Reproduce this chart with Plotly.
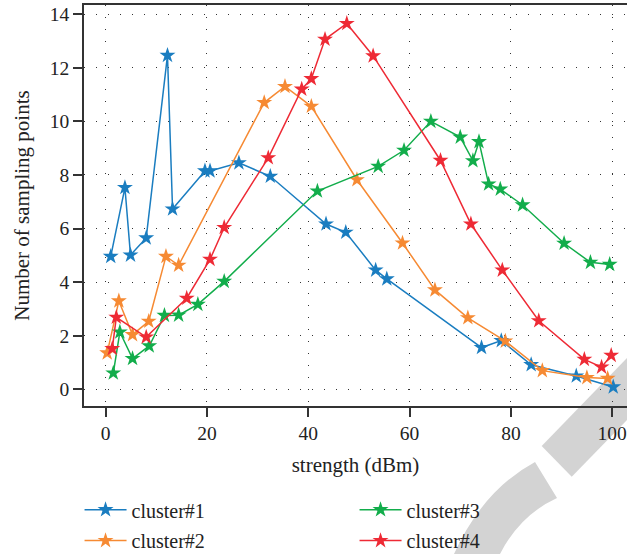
import plotly.graph_objects as go

# ---------------- data ----------------
c1_x = [1.0, 3.8, 4.9, 8.0, 12.2, 13.2, 19.6, 20.6, 26.3, 32.5, 43.5, 47.4, 53.3, 55.5, 74.2, 78.1, 84.0, 92.9, 100.2]
c1_y = [4.96, 7.53, 5.01, 5.65, 12.46, 6.73, 8.15, 8.15, 8.45, 7.95, 6.17, 5.86, 4.45, 4.12, 1.56, 1.82, 0.92, 0.50, 0.09]

c2_x = [0.3, 2.6, 5.3, 8.5, 11.9, 14.4, 31.3, 35.4, 40.6, 49.6, 58.6, 65.0, 71.5, 78.9, 86.2, 95.0, 99.1]
c2_y = [1.36, 3.30, 2.04, 2.54, 4.96, 4.63, 10.70, 11.30, 10.56, 7.82, 5.46, 3.71, 2.67, 1.80, 0.70, 0.44, 0.41]

c3_x = [1.5, 2.8, 5.3, 8.6, 11.6, 14.4, 18.2, 23.4, 41.8, 53.8, 58.9, 64.2, 70.0, 72.5, 73.7, 75.6, 77.9, 82.3, 90.5, 95.7, 99.5]
c3_y = [0.61, 2.14, 1.15, 1.62, 2.76, 2.77, 3.17, 4.03, 7.40, 8.32, 8.92, 10.0, 9.41, 8.53, 9.24, 7.66, 7.47, 6.88, 5.45, 4.74, 4.66]

c4_x = [1.3, 2.1, 8.0, 16.0, 20.6, 23.4, 32.1, 38.7, 40.6, 43.3, 47.6, 52.8, 66.1, 72.1, 78.3, 85.5, 94.5, 97.9, 99.8]
c4_y = [1.52, 2.69, 1.95, 3.40, 4.85, 6.04, 8.64, 11.20, 11.59, 13.06, 13.65, 12.44, 8.54, 6.17, 4.45, 2.56, 1.12, 0.83, 1.27]

names = ["cluster#1", "cluster#2", "cluster#3", "cluster#4"]
x_ticks = [0, 20, 40, 60, 80, 100]
y_ticks = [0, 2, 4, 6, 8, 10, 12, 14]

# ---------------- style ----------------
colors = ["#1a7dc0", "#f68a33", "#12ad4b", "#ee2a35"]
legend_ids = ["legend", "legend2", "legend", "legend2"]
FONT = "Liberation Serif"
W, H = 627, 554
L, R, T, B = 84, 0, 5, 148

fig = go.Figure()
series = [(c1_x, c1_y), (c2_x, c2_y), (c3_x, c3_y), (c4_x, c4_y)]
for (xs, ys), nm, col, lg in zip(series, names, colors, legend_ids):
    fig.add_trace(go.Scatter(
        x=xs, y=ys, name=nm, mode="lines+markers", legend=lg,
        line=dict(color=col, width=1.5),
        marker=dict(symbol="star", size=12, color=col, line=dict(width=0)),
    ))

# watermark decoration (pixel -> paper helper)
pw, ph = W - L - R, H - T - B
def px(xp):
    return (xp - L) / pw
def py(yp):
    return (H - B - yp) / ph

band = [(541.7, 446), (627, 358), (627, 420), (571.7, 476.7)]
band_path = "M " + " L ".join(f"{px(a):.4f},{py(b):.4f}" for a, b in band) + " Z"
arc_path = (f"M {px(535):.4f},{py(462):.4f} Q {px(483):.4f},{py(490):.4f} {px(454):.4f},{py(554):.4f} "
            f"L {px(500):.4f},{py(554):.4f} Q {px(520):.4f},{py(515):.4f} {px(557):.4f},{py(498):.4f} Z")
for p in (band_path, arc_path):
    fig.add_shape(type="path", path=p, xref="paper", yref="paper",
                  fillcolor="#d3d3d3", line=dict(width=0), layer="below")

axis_common = dict(
    showline=True, linecolor="#333333", linewidth=1.6,
    ticks="outside", ticklen=9, tickwidth=1.5, tickcolor="#333333",
    showgrid=True, gridcolor="#333333", gridwidth=1.1, griddash="1px,11px",
    zeroline=False,
    tickfont=dict(family=FONT, size=19.5, color="#222222"),
)

fig.update_xaxes(
    range=[-4.28, 102.92], tickvals=x_ticks, mirror=True,
    title=dict(text="strength (dBm)", font=dict(family=FONT, size=21, color="#222222"), standoff=14),
    **axis_common,
)
fig.update_yaxes(
    range=[-0.62, 14.34], tickvals=y_ticks, mirror=False,
    title=dict(text="Number of sampling points", font=dict(family=FONT, size=21, color="#222222"), standoff=14),
    **axis_common,
)

legend_common = dict(
    orientation="h", xanchor="left", yanchor="top",
    entrywidth=218, entrywidthmode="pixels", traceorder="normal",
    font=dict(family=FONT, size=20, color="#222222"),
    bgcolor="rgba(0,0,0,0)", itemwidth=42,
)

fig.update_layout(
    width=W, height=H,
    margin=dict(l=L, r=R, t=T, b=B, autoexpand=False),
    paper_bgcolor="white", plot_bgcolor="rgba(0,0,0,0)",
    showlegend=True,
    legend=dict(x=-0.0082, y=-0.210, **legend_common),
    legend2=dict(x=-0.0082, y=-0.287, **legend_common),
)

fig.write_html(
    "out.html",
    config={"displayModeBar": False},
    post_script="document.body.style.margin='0px';document.body.style.overflow='hidden';",
)
